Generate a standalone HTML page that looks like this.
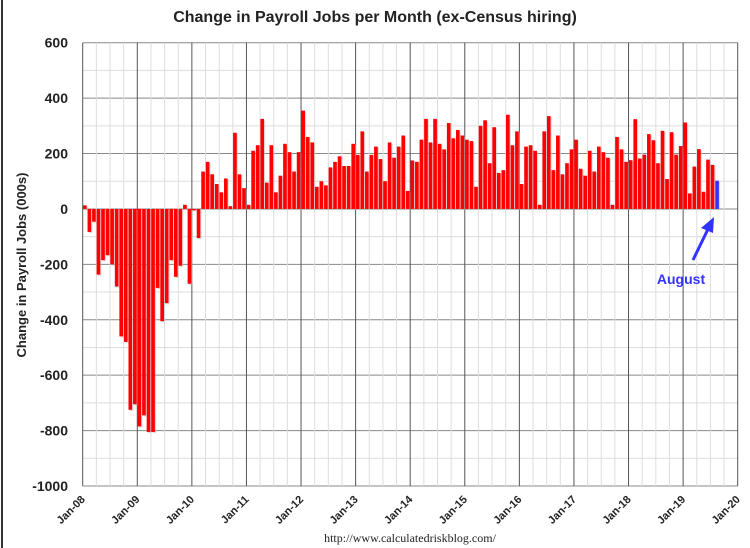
<!DOCTYPE html>
<html><head><meta charset="utf-8"><style>
body{margin:0;background:#fff;width:750px;height:548px;overflow:hidden;position:relative}
svg{position:absolute;left:0;top:0}
</style></head><body>
<svg id="s" width="750" height="548" xmlns="http://www.w3.org/2000/svg" font-family="Liberation Sans, sans-serif"></svg>
<script>
(function(){
var v=[13,-83,-46,-237,-185,-167,-200,-280,-460,-480,-725,-705,
-785,-745,-805,-805,-285,-405,-340,-185,-245,-205,15,-270,
-5,-105,135,170,125,90,60,110,10,275,125,75,
15,210,230,325,95,230,60,120,235,205,135,205,
355,260,240,80,100,85,150,170,190,155,155,235,
195,280,135,195,225,180,100,240,185,225,265,65,
175,170,250,325,240,325,235,215,310,255,285,265,
250,245,80,300,320,165,295,130,140,340,230,280,
90,225,230,210,15,280,335,140,265,125,165,215,
250,145,120,210,135,225,205,185,15,260,215,170,
176,324,182,196,270,248,165,282,108,277,196,227,
312,56,153,216,62,178,159,102];
var L=82.7,T=42.7,B=486,W=655,mw=W/144,sc=(B-T)/1600;
function y(val){return T+(600-val)*sc}
var h='';
h+='<line x1="2" y1="0" x2="2" y2="548" stroke="#333" stroke-width="2"/>';
for(var k=-1000;k<=600;k+=100){var yy=y(k);var major=k%200==0;
h+='<line x1="'+L+'" x2="'+(L+W)+'" y1="'+yy+'" y2="'+yy+'" stroke="'+(major?'#888':'#ddd')+'" stroke-width="1"/>';}
for(var m=0;m<=144;m+=3){var xx=L+m*mw;var major=m%12==0;
h+='<line x1="'+xx+'" x2="'+xx+'" y1="'+T+'" y2="'+B+'" stroke="'+(major?'#555':'#ddd')+'" stroke-width="1"/>';}
for(var i=0;i<v.length;i++){var bx=L+i*mw+0.3;var y0=y(0),y1=y(v[i]);var bt=Math.min(y0,y1),hh=Math.abs(y1-y0);
var c=i==v.length-1?'#3333ff':'#ff0000';
h+='<rect x="'+(bx+1.2)+'" y="'+(bt+1.2)+'" width="'+(mw-0.9)+'" height="'+hh+'" fill="#bbb" opacity="0.5"/>';
h+='<rect x="'+bx+'" y="'+bt+'" width="'+(mw-0.9)+'" height="'+hh+'" fill="'+c+'"/>';}
for(var k=-1000;k<=600;k+=200){h+='<text x="68" y="'+(y(k)+5)+'" text-anchor="end" font-size="14" font-weight="bold" fill="#222">'+k+'</text>';}
for(var yr=8;yr<=20;yr++){var xx=L+(yr-8)*12*mw;var lab='Jan-'+(yr<10?'0':'')+yr;
h+='<text transform="translate('+(xx+3)+',500) rotate(-45)" text-anchor="end" font-size="11" font-weight="bold" fill="#222">'+lab+'</text>';}
h+='<text x="375" y="22" text-anchor="middle" font-size="16" font-weight="bold" fill="#222">Change in Payroll Jobs per Month (ex-Census hiring)</text>';
h+='<text transform="translate(26,265) rotate(-90)" text-anchor="middle" font-size="13" font-weight="bold" fill="#222">Change in Payroll Jobs (000s)</text>';
h+='<text x="410" y="542" text-anchor="middle" font-size="12" font-family="Liberation Serif, serif" fill="#222">http://www.calculatedriskblog.com/</text>';
h+='<text x="681" y="284" text-anchor="middle" font-size="14" font-weight="bold" fill="#3333ff">August</text>';
h+='<line x1="693" y1="260" x2="710" y2="225" stroke="#3333ff" stroke-width="3"/>';
h+='<polygon points="714,217 701,228 713,233" fill="#3333ff"/>';
document.getElementById('s').innerHTML=h;
})();
</script>
</body></html>
